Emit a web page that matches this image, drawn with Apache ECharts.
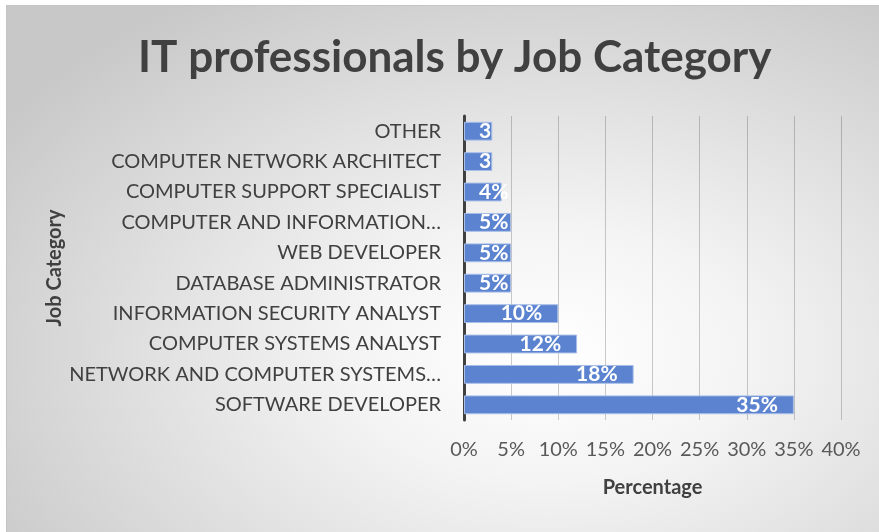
<!DOCTYPE html>
<html>
<head>
<meta charset="utf-8">
<script src="https://cdn.jsdelivr.net/npm/echarts@6/dist/echarts.min.js"></script>
<style>
  html, body { margin: 0; padding: 0; width: 879px; height: 532px; background: #ffffff; overflow: hidden; }
  #bg {
    position: absolute; left: 6px; top: 5px; right: 0; bottom: 0;
    border-left: 1px solid #c4c4c4; border-top: 1px solid #c4c4c4;
    background: radial-gradient(ellipse 75% 80% at 62% 66%, #ffffff 0%, #f4f4f4 30%, #c8c8c8 100%);
  }
  #chart { position: absolute; left: 0; top: 0; width: 879px; height: 532px; }
</style>
</head>
<body>
<div id="bg"></div>
<div id="chart"></div>
<script>
// Share of IT professionals per job category (percent), listed top to bottom
const categories = [
  'OTHER',
  'COMPUTER NETWORK ARCHITECT',
  'COMPUTER SUPPORT SPECIALIST',
  'COMPUTER AND INFORMATION RESEARCH SCIENTIST',
  'WEB DEVELOPER',
  'DATABASE ADMINISTRATOR',
  'INFORMATION SECURITY ANALYST',
  'COMPUTER SYSTEMS ANALYST',
  'NETWORK AND COMPUTER SYSTEMS ADMINISTRATOR',
  'SOFTWARE DEVELOPER'
];
const shares = [3, 3, 4, 5, 5, 5, 10, 12, 18, 35];
const axisMin = 0, axisMax = 40, axisStep = 5;

const FONT = 'Lato, "Open Sans", sans-serif';
const LABEL_SIZE = 20;
const LABEL_WIDTH = 372;

// Long category names are shortened word by word and end with an ellipsis
const measureCtx = document.createElement('canvas').getContext('2d');
measureCtx.font = LABEL_SIZE + 'px ' + FONT;
function shortenName(name) {
  if (measureCtx.measureText(name).width <= LABEL_WIDTH) return name;
  const words = name.split(' ');
  let out = words[0];
  for (let i = 1; i < words.length; i++) {
    const next = out + ' ' + words[i];
    if (measureCtx.measureText(next + '…').width > LABEL_WIDTH) break;
    out = next;
  }
  return out + '…';
}

// Short bars put the label near the base; the narrowest ones clip it to the bar
const barData = shares.map(v => {
  if (v <= 3) {
    return { value: v, label: { position: 'insideLeft', distance: 15, width: 18, overflow: 'truncate', ellipsis: '' } };
  }
  if (v <= 5) {
    return { value: v, label: { position: 'insideLeft', distance: 15 } };
  }
  return { value: v };
});

const chart = echarts.init(document.getElementById('chart'), null, { renderer: 'canvas' });
chart.setOption({
  backgroundColor: 'transparent',
  animation: false,
  title: {
    text: 'IT professionals by Job Category',
    left: 133,
    top: 31,
    textStyle: { fontFamily: FONT, fontSize: 44, fontWeight: 'bold', color: '#404040' }
  },
  grid: { left: 464, right: 38, top: 116, bottom: 112, containLabel: false },
  xAxis: {
    type: 'value',
    min: axisMin, max: axisMax, interval: axisStep,
    name: 'Percentage',
    nameLocation: 'middle',
    nameGap: 58,
    nameTextStyle: { fontFamily: FONT, fontSize: 20, fontWeight: 'bold', color: '#404040' },
    axisLine: { show: false },
    axisTick: { show: false },
    axisLabel: { formatter: '{value}%', margin: 20, fontFamily: FONT, fontSize: 20, color: '#595959' },
    splitLine: { show: true, lineStyle: { color: 'rgba(0,0,0,0.2)', width: 1 } }
  },
  yAxis: {
    type: 'category',
    data: categories,
    inverse: true,
    name: 'Job Category',
    nameLocation: 'middle',
    nameGap: 399,
    nameRotate: 90,
    nameTextStyle: { fontFamily: FONT, fontSize: 20, fontWeight: 'bold', color: '#404040' },
    axisLine: { show: true, lineStyle: { color: '#404040', width: 3 } },
    axisTick: { show: false },
    axisLabel: {
      margin: 23,
      formatter: shortenName,
      fontFamily: FONT, fontSize: LABEL_SIZE, color: '#404040'
    }
  },
  series: [{
    type: 'bar',
    data: barData,
    barWidth: '62%',
    itemStyle: { color: '#5b83cf', borderColor: '#a9bfe8', borderWidth: 1 },
    label: {
      show: true,
      position: 'insideRight',
      distance: 16,
      formatter: '{c}%',
      fontFamily: FONT, fontSize: 21, fontWeight: 'bold', color: '#ffffff'
    }
  }]
});
</script>
</body>
</html>
